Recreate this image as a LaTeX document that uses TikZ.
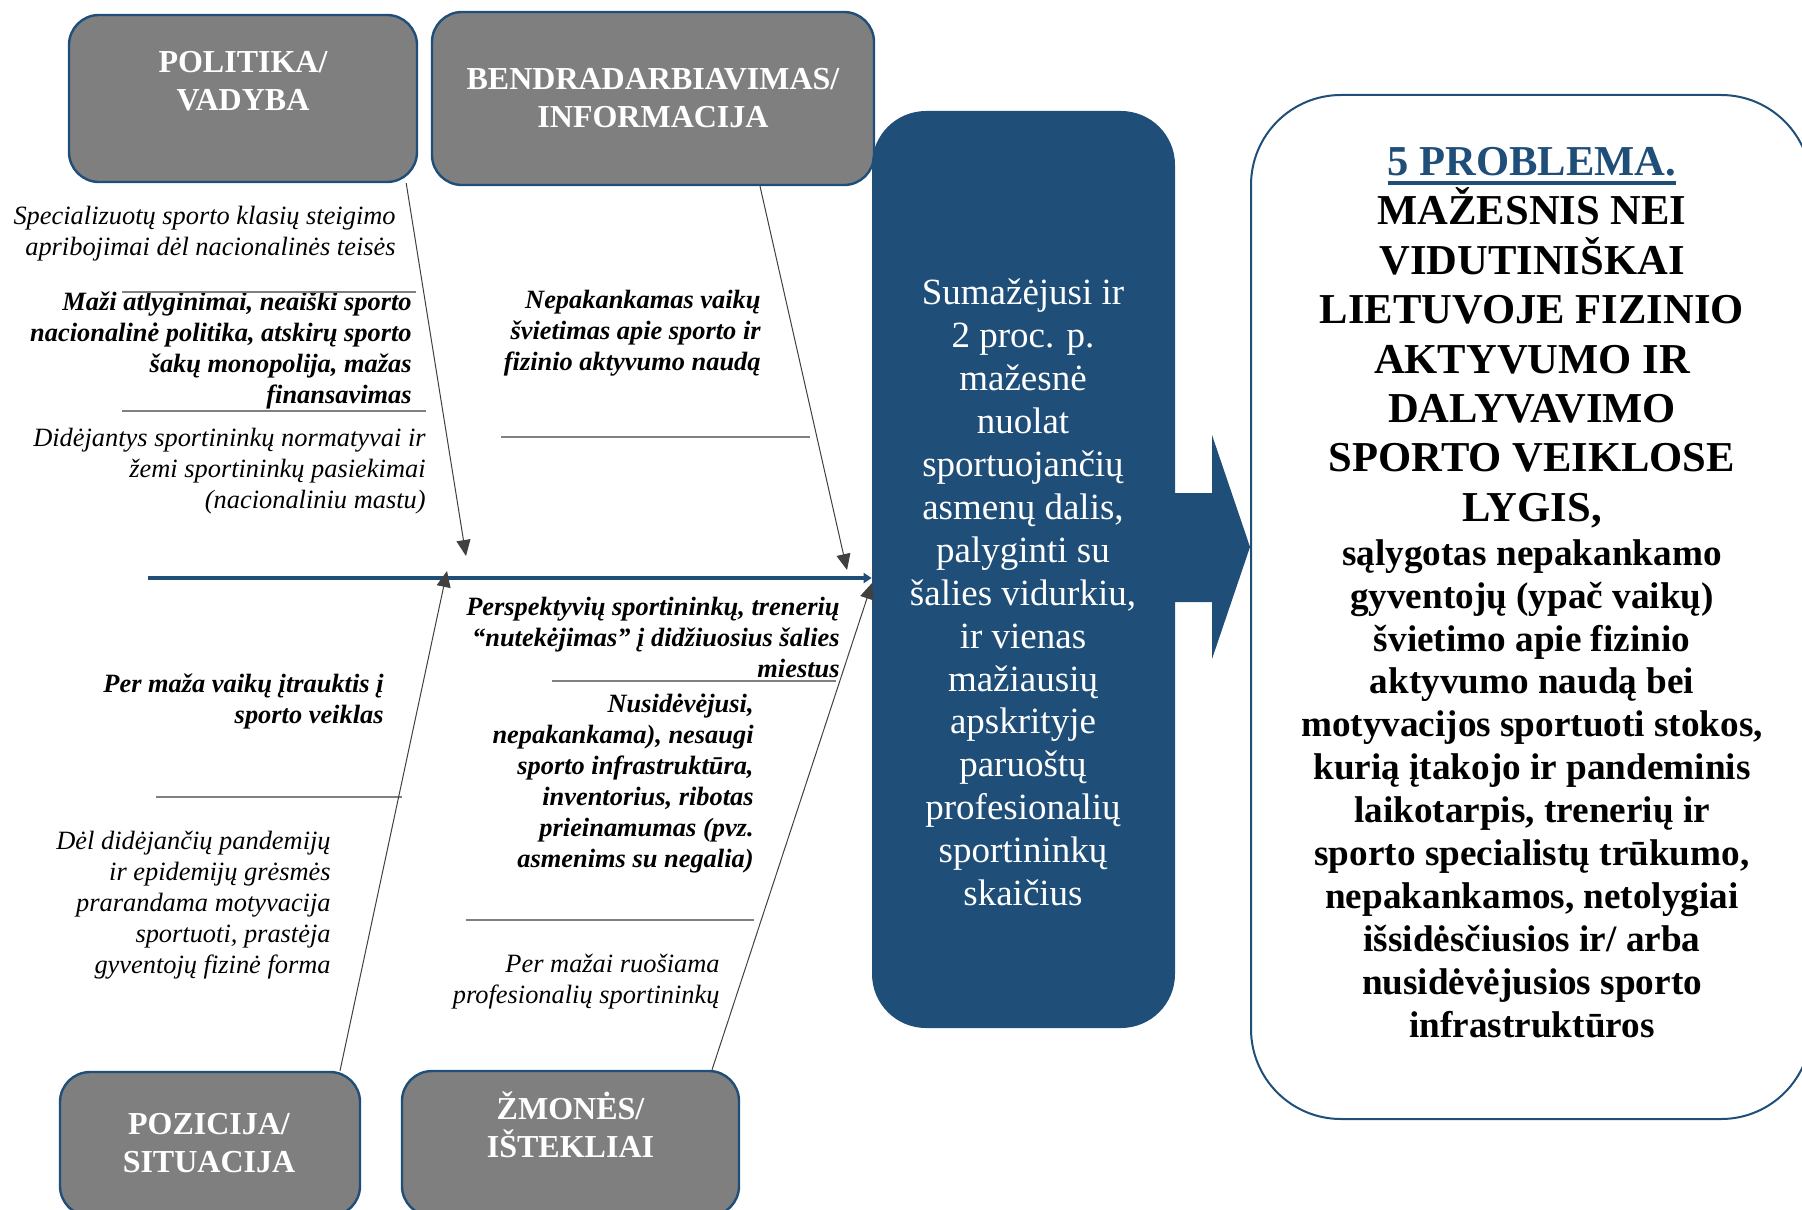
\documentclass[tikz,border=0pt]{standalone}
\usepackage{fontspec}
\setmainfont{Liberation Serif}
\usetikzlibrary{arrows.meta,calc}
\definecolor{navy}{RGB}{31,78,121}
\definecolor{boxgray}{RGB}{127,127,127}
\definecolor{rulegray}{RGB}{128,128,128}
\definecolor{bonegray}{RGB}{64,64,64}
\newcommand{\probline}[1]{\setbox0\hbox{#1}\rlap{\rule[-4.5pt]{\wd0}{2pt}}\box0}

\begin{document}
\begin{tikzpicture}[x=0.5pt, y=-0.5pt,
  hbox/.style={draw=navy, line width=1.2pt, fill=boxgray, rounded corners=15pt, inner sep=0pt},
  htxt/.style={text=white, font=\fontsize{16}{19}\selectfont\bfseries, align=center, inner sep=0pt},
  cause/.style={font=\fontsize{13.2}{15.5}\selectfont\itshape, align=right, anchor=east, inner sep=0pt},
  bcause/.style={cause, font=\fontsize{13.2}{15.5}\selectfont\bfseries\itshape},
  bone/.style={draw=bonegray, line width=0.5pt, -{Triangle[length=8pt,width=7pt]}},
  sep/.style={draw=rulegray, line width=1pt},
]
  \useasboundingbox (0,0) rectangle (1802,1209);

  % category boxes
  \node[hbox, minimum width=174pt, minimum height=83.5pt] (pol) at (243,98.5) {};
  \node[hbox, minimum width=221pt, minimum height=86.5pt] (ben) at (653,98.5) {};
  \node[hbox, minimum width=150pt, minimum height=72pt]   (poz) at (210,1144) {};
  \node[hbox, minimum width=168.5pt, minimum height=72.5pt] (zmo) at (570.5,1143.5) {};
  \node[htxt] at ([shift={(0,-17.5)}]pol.center) {POLITIKA/\\VADYBA};
  \node[htxt] at (ben.center) {BENDRADARBIAVIMAS/\\INFORMACIJA};
  \node[htxt] at ([shift={(-1,-1)}]poz.center) {POZICIJA/\\SITUACIJA};
  \node[htxt] at ([shift={(0,-19)}]zmo.center) {ŽMONĖS/\\IŠTEKLIAI};

  % effect and problem
  \node[fill=navy, rounded corners=27pt, minimum width=151.5pt, minimum height=458.5pt] (bx) at (1023.5,569.5) {};
  \node[text=white, align=center, inner sep=0pt, font=\fontsize{18.5}{21.45}\selectfont] (eff) at (1023,592.5)
    {Sumažėjusi ir\\2 proc. p.\\mažesnė\\nuolat\\sportuojančių\\asmenų dalis,\\palyginti su\\šalies vidurkiu,\\ir vienas\\mažiausių\\apskrityje\\paruoštų\\profesionalių\\sportininkų\\skaičius};
  \node[draw=navy, line width=1pt, fill=white, rounded corners=45pt, minimum width=280pt, minimum height=512pt] (prob) at (1531,607) {};
  \fill[navy] (1170,493) -- (1212,493) -- (1212,435) -- (1250,547) -- (1212,659) -- (1212,602) -- (1170,602) -- cycle;
  \node[anchor=base, inner sep=0pt, text=navy, font=\fontsize{21.3}{24.7}\selectfont\bfseries] (ptitle) at (1532,176) {\probline{5 PROBLEMA.}};
  \node[align=center, inner sep=0pt, font=\fontsize{21.3}{24.7}\selectfont\bfseries] (pcaps) at (1532,358)
    {MAŽESNIS NEI\\VIDUTINIŠKAI\\LIETUVOJE FIZINIO\\AKTYVUMO IR\\DALYVAVIMO\\SPORTO VEIKLOSE\\LYGIS,};
  \node[align=center, inner sep=0pt, font=\fontsize{18.6}{21.45}\selectfont\bfseries] (ptext) at (1532,788.5)
    {sąlygotas nepakankamo\\gyventojų (ypač vaikų)\\švietimo apie fizinio\\aktyvumo naudą bei\\motyvacijos sportuoti stokos,\\kurią įtakojo ir pandeminis\\laikotarpis, trenerių ir\\sporto specialistų trūkumo,\\nepakankamos, netolygiai\\išsidėsčiusios ir/ arba\\nusidėvėjusios sporto\\infrastruktūros};

  % causes
  \node[cause]  (c1) at (396,234) {Specializuotų sporto klasių steigimo\\apribojimai dėl nacionalinės teisės};
  \node[bcause] (c2) at (412,350.5) {Maži atlyginimai, neaiški sporto\\nacionalinė politika, atskirų sporto\\šakų monopolija, mažas\\finansavimas};
  \node[cause]  (c3) at (426,471) {Didėjantys sportininkų normatyvai ir\\žemi sportininkų pasiekimai\\(nacionaliniu mastu)};
  \node[bcause] (c4) at (761,333) {Nepakankamas vaikų\\švietimas apie sporto ir\\fizinio aktyvumo naudą};
  \node[bcause] (c5) at (840,637) {Perspektyvių sportininkų, trenerių\\“nutekėjimas” į didžiuosius šalies\\miestus};
  \node[bcause] (c6) at (384,701.5) {Per maža vaikų įtrauktis į\\sporto veiklas};
  \node[bcause] (c7) at (754,783) {Nusidėvėjusi,\\nepakankama), nesaugi\\sporto infrastruktūra,\\inventorius, ribotas\\prieinamumas (pvz.\\asmenims su negalia)};
  \node[cause]  (c8) at (331,905.5) {Dėl didėjančių pandemijų\\ir epidemijų grėsmės\\prarandama motyvacija\\sportuoti, prastėja\\gyventojų fizinė forma};
  \node[cause]  (c9) at (720,981.5) {Per mažai ruošiama\\profesionalių sportininkų};

  % separators
  \draw[sep] (122,292) -- (416,292);
  \draw[sep] (122,411) -- (426,411);
  \draw[sep] (501,437) -- (810,437);
  \draw[sep] (552,681) -- (836,681);
  \draw[sep] (156,797) -- (402,797);
  \draw[sep] (466,920) -- (754,920);

  % spine and bones
  \coordinate (spine) at (148,578);
  \draw[navy, line width=2pt, -{Triangle[length=4pt,width=5pt]}] (spine) -- (spine -| bx.west);
  \coordinate (t1) at (466,556);
  \coordinate (t2) at (847,570);
  \coordinate (t3) at (447,571);
  \coordinate (t4) at (872,583);
  \draw[bone] ([shift={(-12,0)}]pol.south east) -- (t1);
  \draw[bone] ([shift={(107,0)}]ben.south) -- (t2);
  \draw[bone] ([shift={(130,0)}]poz.north) -- (t3);
  \draw[bone] ([shift={(141.5,0)}]zmo.north) -- (t4);
\end{tikzpicture}
\end{document}
